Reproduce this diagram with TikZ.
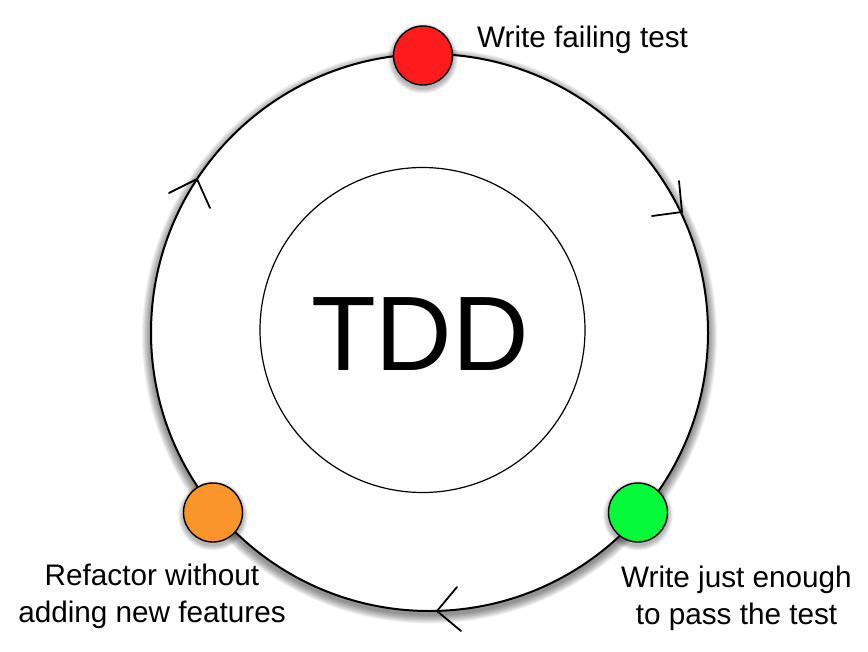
\documentclass[tikz,border=0pt]{standalone}
\usepackage{fontspec}
\setmainfont{Liberation Sans}
\definecolor{redc}{RGB}{253,27,27}
\definecolor{greenc}{RGB}{4,250,58}
\definecolor{orangec}{RGB}{250,149,44}
\begin{document}
\begin{tikzpicture}[x=1pt,y=-1pt,
  ring/.style={circle,draw=black,line width=2pt,fill=white,minimum size=557pt,inner sep=0pt},
  core/.style={circle,draw=black,line width=1.2pt,minimum size=325pt,inner sep=0pt},
  dot/.style={circle,draw=black,line width=1.4pt,minimum size=59pt,inner sep=0pt},
  lbl/.style={font=\fontsize{29.7}{37}\selectfont,align=center,inner sep=0pt},
  chev/.style={line width=1.8pt,line cap=round,line join=miter}
]
\useasboundingbox (0,0) rectangle (868,651);
\fill[white] (0,0) rectangle (868,651);
% soft shadow of the ring
\foreach \i in {1,...,10}
  \fill[black,opacity=0.05] (429.5,336) circle[radius={278.5pt+\i*0.9pt}];
\node[ring] (outer) at (429.5,332.5) {};
\node[core] (inner) at (422.5,330) {};
\node[font=\fontsize{106}{106}\selectfont,inner sep=0pt,anchor=base] (tdd) at (420,370) {TDD};
% shadows of the dots
\foreach \px/\py in {423/58.5, 638/515.5, 213/515.5}
  \foreach \i in {1,...,6}
    \fill[black,opacity=0.05] (\px,\py) circle[radius={29.5pt+\i*0.9pt}];
\node[dot,fill=redc] (fail) at (423,55.5) {};
\node[dot,fill=greenc] (pass) at (638,512.5) {};
\node[dot,fill=orangec] (refac) at (213,512.5) {};
% labels
\node[lbl,anchor=base west] (failtxt) at (477,47) {Write failing test};
\node[lbl,anchor=base] (passtxt) at (736.5,624) {Write just enough\\to pass the test};
\node[lbl,anchor=base] (refactxt) at (152,622) {Refactor without\\adding new features};
% direction chevrons
\coordinate (a1l) at (169,193); \coordinate (a1t) at (197,179); \coordinate (a1r) at (210,208);
\coordinate (a2l) at (679,181); \coordinate (a2t) at (682,212); \coordinate (a2r) at (652,216);
\coordinate (a3l) at (457,587); \coordinate (a3t) at (437,611); \coordinate (a3r) at (461,631);
\draw[chev] (a1l) -- (a1t) -- (a1r);
\draw[chev] (a2l) -- (a2t) -- (a2r);
\draw[chev] (a3l) -- (a3t) -- (a3r);
\end{tikzpicture}
\end{document}
